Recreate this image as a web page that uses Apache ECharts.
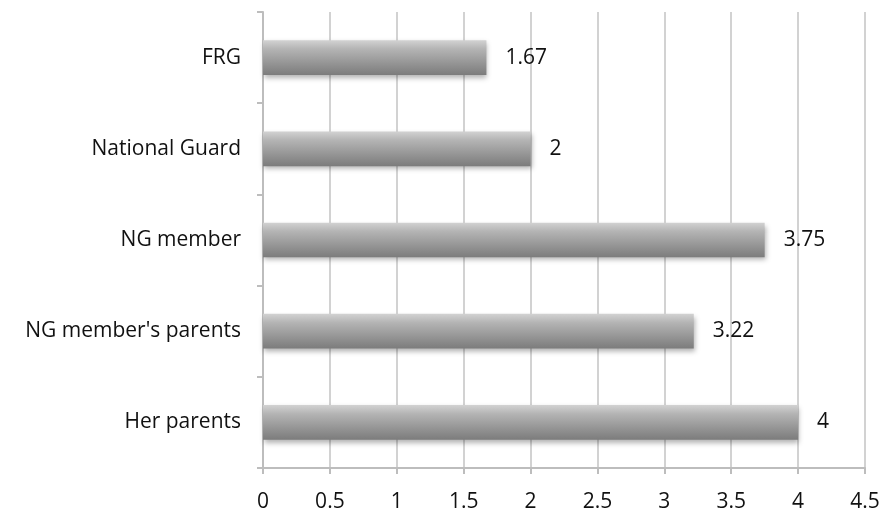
<!DOCTYPE html>
<html>
<head>
<meta charset="utf-8">
<script src="https://cdn.jsdelivr.net/npm/echarts@6/dist/echarts.min.js"></script>
<style>
  html, body { margin: 0; padding: 0; background: #fff; }
  #chart { width: 884px; height: 514px; }
</style>
</head>
<body>
<div id="chart"></div>
<script>
const categories = ['Her parents', "NG member's parents", 'NG member', 'National Guard', 'FRG'];
const values = [4, 3.22, 3.75, 2, 1.67];

var myChart = echarts.init(document.getElementById('chart'));
var option = {
  animation: false,
  grid: {
    left: 263,
    right: 19,
    top: 12,
    bottom: 46
  },
  xAxis: {
    type: 'value',
    min: 0,
    max: 4.5,
    interval: 0.5,
    axisLine: {
      show: true,
      lineStyle: { color: '#bdbdbd', width: 2 }
    },
    axisTick: {
      show: true,
      length: 6,
      lineStyle: { color: '#bdbdbd', width: 2 }
    },
    splitLine: {
      show: true,
      lineStyle: { color: '#d2d2d2', width: 2 }
    },
    axisLabel: {
      color: '#111',
      fontFamily: 'Open Sans',
      fontSize: 21,
      margin: 24,
      formatter: function (v) { return String(v); }
    }
  },
  yAxis: {
    type: 'category',
    data: categories,
    axisLine: {
      show: true,
      lineStyle: { color: '#bdbdbd', width: 2 }
    },
    axisTick: {
      show: true,
      length: 6,
      lineStyle: { color: '#bdbdbd', width: 2 }
    },
    axisLabel: {
      color: '#111',
      fontFamily: 'Open Sans',
      fontSize: 21,
      margin: 22
    }
  },
  series: [
    {
      type: 'bar',
      data: values,
      barWidth: '38%',
      itemStyle: {
        color: new echarts.graphic.LinearGradient(0, 0, 0, 1, [
          { offset: 0, color: '#d2d2d2' },
          { offset: 0.25, color: '#b4b4b4' },
          { offset: 0.7, color: '#929292' },
          { offset: 1, color: '#7c7c7c' }
        ]),
        shadowColor: 'rgba(0, 0, 0, 0.3)',
        shadowBlur: 5,
        shadowOffsetY: 3,
        shadowOffsetX: 1
      },
      label: {
        show: true,
        position: 'right',
        distance: 19,
        color: '#111',
        fontFamily: 'Open Sans',
        fontSize: 21
      }
    }
  ]
};
myChart.setOption(option);
</script>
</body>
</html>
